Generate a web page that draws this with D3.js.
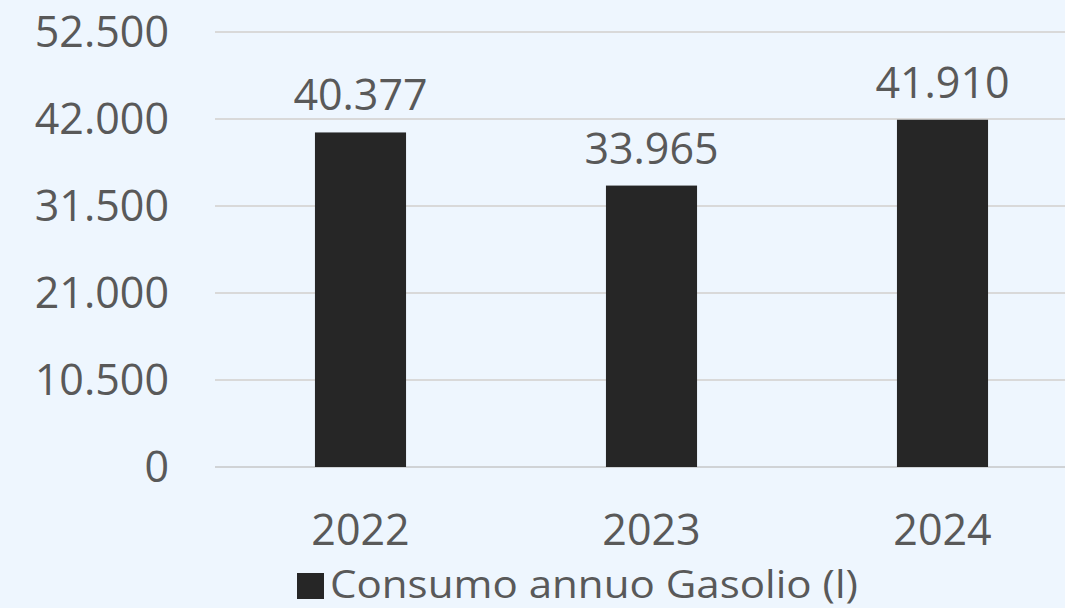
<!DOCTYPE html>
<html><head><meta charset="utf-8">
<script src="https://cdn.jsdelivr.net/npm/d3@7"></script>
<style>
html,body{margin:0;padding:0;background:#EEF6FE;}
svg{display:block;}
text{font-family:"Open Sans",sans-serif;fill:#595959;}
</style></head>
<body>
<svg id="chart" width="1065" height="608"></svg>
<script>
const categories = ["2022","2023","2024"];
const values = [40377, 33965, 41910];
const yTicks = [0, 10500, 21000, 31500, 42000, 52500];
const seriesName = "Consumo annuo Gasolio (l)";

(function () {
const fmt = v => d3.format(",")(v).replace(/,/g, ".");
const svg = d3.select("#chart");
const W = 1065, H = 608;
const mLeft = 215, mRight = 1088, mTop = 32, mBottom = 467;
const FS = 43;

const x = d3.scaleBand().domain(categories).range([mLeft, mRight]).paddingInner(0.687).paddingOuter(0.3435);
const y = d3.scaleLinear().domain([0, 52500]).range([mBottom, mTop]);

svg.append("rect").attr("width", W).attr("height", H).attr("fill", "#EEF6FE");

// gridlines
svg.append("g").selectAll("line").data(yTicks).join("line")
  .attr("x1", mLeft).attr("x2", W)
  .attr("y1", d => y(d)).attr("y2", d => y(d))
  .attr("stroke", d => d === 0 ? "#D0D3D6" : "#D9D9D9")
  .attr("stroke-width", 2);

// y labels
svg.append("g").selectAll("text").data(yTicks).join("text")
  .attr("x", 169).attr("y", d => y(d)).attr("dy", "0.36em")
  .attr("text-anchor", "end").attr("font-size", FS)
  .text(d => fmt(d));

// bars
svg.append("g").selectAll("rect").data(values).join("rect")
  .attr("x", (d, i) => x(categories[i]))
  .attr("width", x.bandwidth())
  .attr("y", d => y(d))
  .attr("height", d => y(0) - y(d))
  .attr("fill", "#262626");

// value labels
svg.append("g").selectAll("text").data(values).join("text")
  .attr("x", (d, i) => x(categories[i]) + x.bandwidth() / 2)
  .attr("y", d => y(d) - 22)
  .attr("text-anchor", "middle").attr("font-size", FS)
  .text(d => fmt(d));

// x labels
svg.append("g").selectAll("text").data(categories).join("text")
  .attr("x", d => x(d) + x.bandwidth() / 2)
  .attr("y", 545)
  .attr("text-anchor", "middle").attr("font-size", FS)
  .text(d => d);

// legend
const lg = svg.append("g");
lg.append("rect").attr("x", 297).attr("y", 573).attr("width", 27).attr("height", 26).attr("fill", "#262626");
lg.append("text").attr("x", 330).attr("y", 598).attr("font-size", 39)
  .attr("textLength", 528).attr("lengthAdjust", "spacingAndGlyphs").text(seriesName);
})();
</script>
</body></html>
